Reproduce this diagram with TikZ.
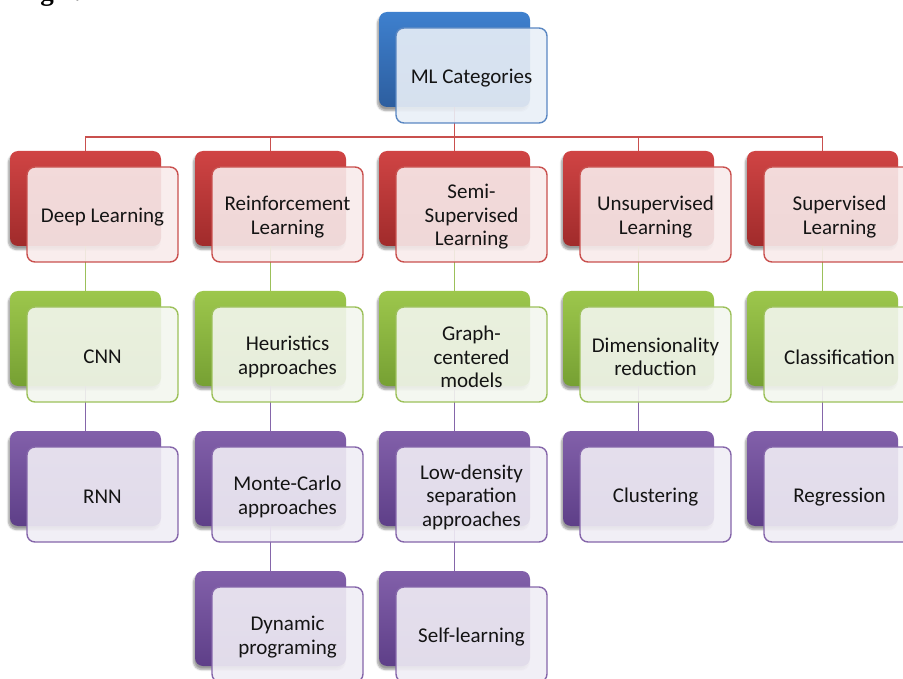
\documentclass[tikz,border=0pt]{standalone}
\usepackage{fontspec}
\setmainfont{Carlito}
\newfontfamily\capfont{Liberation Serif}
\usetikzlibrary{shadows.blur}

% colour schemes: Top/Bot for the shaded back card, Line and Fill for the front card
\definecolor{mlblueTop}{HTML}{3E80CE}
\definecolor{mlblueBot}{HTML}{2D5E9F}
\definecolor{mlblueLine}{HTML}{5A87C2}
\definecolor{mlblueFill}{HTML}{E9EFF7}
\definecolor{mlredTop}{HTML}{D04444}
\definecolor{mlredBot}{HTML}{A02B2B}
\definecolor{mlredLine}{HTML}{C9504E}
\definecolor{mlredFill}{HTML}{F8EBEB}
\definecolor{mlgreenTop}{HTML}{9DC74C}
\definecolor{mlgreenBot}{HTML}{76A033}
\definecolor{mlgreenLine}{HTML}{9CC05A}
\definecolor{mlgreenFill}{HTML}{F3F6EE}
\definecolor{mlpurpleTop}{HTML}{8260AA}
\definecolor{mlpurpleBot}{HTML}{5E3F88}
\definecolor{mlpurpleLine}{HTML}{8566AA}
\definecolor{mlpurpleFill}{HTML}{F0EDF5}
\definecolor{textcol}{HTML}{141414}

\tikzset{
  backbox/.style={draw=none, rounded corners=8pt, minimum width=151pt,
    minimum height=95pt, inner sep=0pt, top color=#1Top, bottom color=#1Bot,
    blur shadow={shadow xshift=-1.5pt, shadow yshift=-3.5pt,
      shadow blur steps=6, shadow opacity=40}},
  frontbox/.style={draw=#1Line, line width=1.4pt, fill=#1Fill,
    fill opacity=0.9, rounded corners=8pt,
    minimum width=151pt, minimum height=95pt, inner sep=0pt},
  cardtext/.style={inner sep=0pt, align=center, text=textcol,
    font=\fontsize{21}{23.5}\selectfont},
  link/.style={draw=#1Line, line width=1.7pt},
}

% back shaded card (name-b), front card (name) and its label (name-t)
\newcommand\mlback[4]{\node[backbox=#4] (#1-b) at (#2+75.5,#3+47.5) {};}
\newcommand\mlfront[5]{%
  \node[frontbox=#4] (#1) at (#2+92.5,#3+63.5) {};
  \node[cardtext] (#1-t) at ([yshift=-2.5pt]#1.center) {#5};}

\begin{document}
\begin{tikzpicture}[x=1pt, y=-1pt]
\useasboundingbox (0,0) rectangle (903,679);
\clip (0,0) rectangle (903,679);

% caption fragment at the very top
\node[anchor=base west, inner sep=0pt, text=black,
  font=\capfont\bfseries\fontsize{27}{27}\selectfont] (figref) at (-13,1) {m Fig 1.};

% back cards
\mlback{ml}{379}{12}{mlblue}
\mlback{dl}{10}{151}{mlred}
\mlback{rl}{195}{151}{mlred}
\mlback{ssl}{379}{151}{mlred}
\mlback{ul}{563}{151}{mlred}
\mlback{sl}{747}{151}{mlred}
\mlback{cnn}{10}{291}{mlgreen}
\mlback{ha}{195}{291}{mlgreen}
\mlback{gcm}{379}{291}{mlgreen}
\mlback{dr}{563}{291}{mlgreen}
\mlback{cls}{747}{291}{mlgreen}
\mlback{rnn}{10}{431}{mlpurple}
\mlback{mc}{195}{431}{mlpurple}
\mlback{lds}{379}{431}{mlpurple}
\mlback{clu}{563}{431}{mlpurple}
\mlback{reg}{747}{431}{mlpurple}
\mlback{dp}{195}{571}{mlpurple}
\mlback{slf}{379}{571}{mlpurple}

% connectors
\foreach \c in {dl,rl,ssl,ul,sl}
  \draw[link=mlred] (ml-b.south) -- ++(0,30) -| (\c-b.north);
\foreach \p/\c in {dl/cnn,rl/ha,ssl/gcm,ul/dr,sl/cls}
  \draw[link=mlgreen] (\p-b.south) -- (\c-b.north);
\foreach \p/\c in {cnn/rnn,ha/mc,gcm/lds,dr/clu,cls/reg,mc/dp,lds/slf}
  \draw[link=mlpurple] (\p-b.south) -- (\c-b.north);

% front cards with labels
\mlfront{ml}{379}{12}{mlblue}{ML Categories}
\mlfront{dl}{10}{151}{mlred}{Deep Learning}
\mlfront{rl}{195}{151}{mlred}{Reinforcement\\Learning}
\mlfront{ssl}{379}{151}{mlred}{Semi-\\Supervised\\Learning}
\mlfront{ul}{563}{151}{mlred}{Unsupervised\\Learning}
\mlfront{sl}{747}{151}{mlred}{Supervised\\Learning}
\mlfront{cnn}{10}{291}{mlgreen}{CNN}
\mlfront{ha}{195}{291}{mlgreen}{Heuristics\\approaches}
\mlfront{gcm}{379}{291}{mlgreen}{Graph-\\centered\\models}
\mlfront{dr}{563}{291}{mlgreen}{Dimensionality\\reduction}
\mlfront{cls}{747}{291}{mlgreen}{Classification}
\mlfront{rnn}{10}{431}{mlpurple}{RNN}
\mlfront{mc}{195}{431}{mlpurple}{Monte-Carlo\\approaches}
\mlfront{lds}{379}{431}{mlpurple}{Low-density\\separation\\approaches}
\mlfront{clu}{563}{431}{mlpurple}{Clustering}
\mlfront{reg}{747}{431}{mlpurple}{Regression}
\mlfront{dp}{195}{571}{mlpurple}{Dynamic\\programing}
\mlfront{slf}{379}{571}{mlpurple}{Self-learning}
\end{tikzpicture}
\end{document}
